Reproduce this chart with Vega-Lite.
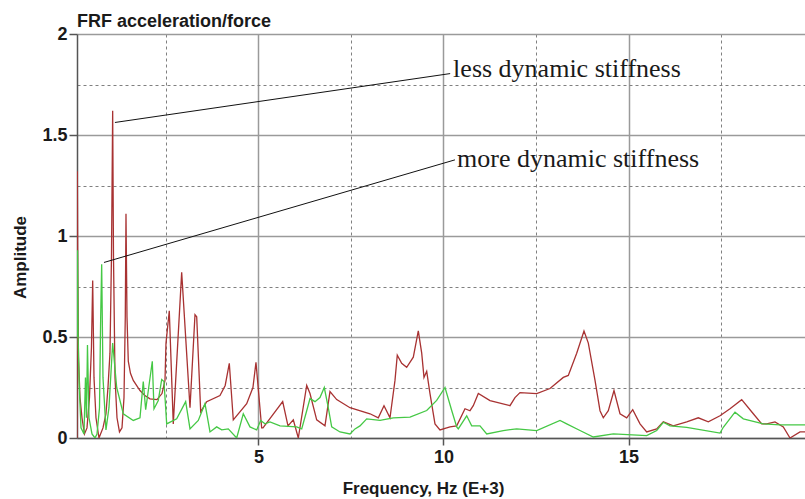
{
  "$schema": "https://vega.github.io/schema/vega-lite/v6.json",
  "width": 728,
  "height": 404,
  "autosize": {"type": "none"},
  "padding": {"left": 77, "top": 34, "right": 0, "bottom": 61},
  "background": "white",
  "config": {"view": {"stroke": null}, "font": "Liberation Sans"},
  "title": {"text": "FRF acceleration/force", "anchor": "start", "frame": "group", "fontSize": 18, "fontWeight": "bold", "color": "#1a1a1a", "offset": -6, "font": "Liberation Sans"},
  "datasets": {
    "curves": [
      {"f": 0.095, "a": 0.0, "s": "less"},
      {"f": 0.103, "a": 1.32, "s": "less"},
      {"f": 0.116, "a": 0.81, "s": "less"},
      {"f": 0.135, "a": 0.4, "s": "less"},
      {"f": 0.176, "a": 0.2, "s": "less"},
      {"f": 0.23, "a": 0.1, "s": "less"},
      {"f": 0.297, "a": 0.02, "s": "less"},
      {"f": 0.365, "a": 0.05, "s": "less"},
      {"f": 0.432, "a": 0.2, "s": "less"},
      {"f": 0.486, "a": 0.45, "s": "less"},
      {"f": 0.519, "a": 0.78, "s": "less"},
      {"f": 0.554, "a": 0.3, "s": "less"},
      {"f": 0.608, "a": 0.1, "s": "less"},
      {"f": 0.689, "a": 0.0, "s": "less"},
      {"f": 0.797, "a": 0.05, "s": "less"},
      {"f": 0.878, "a": 0.12, "s": "less"},
      {"f": 0.932, "a": 0.25, "s": "less"},
      {"f": 0.986, "a": 0.42, "s": "less"},
      {"f": 1.027, "a": 0.9, "s": "less"},
      {"f": 1.059, "a": 1.62, "s": "less"},
      {"f": 1.081, "a": 0.9, "s": "less"},
      {"f": 1.122, "a": 0.3, "s": "less"},
      {"f": 1.176, "a": 0.1, "s": "less"},
      {"f": 1.243, "a": 0.03, "s": "less"},
      {"f": 1.311, "a": 0.05, "s": "less"},
      {"f": 1.365, "a": 0.2, "s": "less"},
      {"f": 1.4, "a": 0.6, "s": "less"},
      {"f": 1.419, "a": 1.11, "s": "less"},
      {"f": 1.446, "a": 0.6, "s": "less"},
      {"f": 1.481, "a": 0.38, "s": "less"},
      {"f": 1.54, "a": 0.32, "s": "less"},
      {"f": 1.616, "a": 0.285, "s": "less"},
      {"f": 1.797, "a": 0.235, "s": "less"},
      {"f": 1.93, "a": 0.21, "s": "less"},
      {"f": 2.068, "a": 0.194, "s": "less"},
      {"f": 2.257, "a": 0.19, "s": "less"},
      {"f": 2.392, "a": 0.22, "s": "less"},
      {"f": 2.473, "a": 0.285, "s": "less"},
      {"f": 2.5, "a": 0.47, "s": "less"},
      {"f": 2.589, "a": 0.63, "s": "less"},
      {"f": 2.697, "a": 0.07, "s": "less"},
      {"f": 2.924, "a": 0.82, "s": "less"},
      {"f": 3.149, "a": 0.15, "s": "less"},
      {"f": 3.284, "a": 0.61, "s": "less"},
      {"f": 3.33, "a": 0.6, "s": "less"},
      {"f": 3.438, "a": 0.13, "s": "less"},
      {"f": 3.6, "a": 0.18, "s": "less"},
      {"f": 3.959, "a": 0.21, "s": "less"},
      {"f": 4.1, "a": 0.26, "s": "less"},
      {"f": 4.211, "a": 0.37, "s": "less"},
      {"f": 4.319, "a": 0.09, "s": "less"},
      {"f": 4.681, "a": 0.17, "s": "less"},
      {"f": 4.85, "a": 0.25, "s": "less"},
      {"f": 4.932, "a": 0.375, "s": "less"},
      {"f": 5.086, "a": 0.05, "s": "less"},
      {"f": 5.122, "a": 0.05, "s": "less"},
      {"f": 5.654, "a": 0.18, "s": "less"},
      {"f": 5.797, "a": 0.06, "s": "less"},
      {"f": 5.941, "a": 0.09, "s": "less"},
      {"f": 6.076, "a": 0.0, "s": "less"},
      {"f": 6.303, "a": 0.26, "s": "less"},
      {"f": 6.392, "a": 0.22, "s": "less"},
      {"f": 6.573, "a": 0.09, "s": "less"},
      {"f": 6.797, "a": 0.06, "s": "less"},
      {"f": 6.932, "a": 0.23, "s": "less"},
      {"f": 7.114, "a": 0.19, "s": "less"},
      {"f": 7.473, "a": 0.15, "s": "less"},
      {"f": 8.014, "a": 0.12, "s": "less"},
      {"f": 8.238, "a": 0.1, "s": "less"},
      {"f": 8.392, "a": 0.16, "s": "less"},
      {"f": 8.554, "a": 0.1, "s": "less"},
      {"f": 8.689, "a": 0.285, "s": "less"},
      {"f": 8.751, "a": 0.41, "s": "less"},
      {"f": 8.87, "a": 0.37, "s": "less"},
      {"f": 9.005, "a": 0.35, "s": "less"},
      {"f": 9.184, "a": 0.4, "s": "less"},
      {"f": 9.319, "a": 0.53, "s": "less"},
      {"f": 9.411, "a": 0.42, "s": "less"},
      {"f": 9.473, "a": 0.3, "s": "less"},
      {"f": 9.546, "a": 0.33, "s": "less"},
      {"f": 9.635, "a": 0.22, "s": "less"},
      {"f": 9.77, "a": 0.07, "s": "less"},
      {"f": 9.905, "a": 0.04, "s": "less"},
      {"f": 10.176, "a": 0.055, "s": "less"},
      {"f": 10.357, "a": 0.06, "s": "less"},
      {"f": 10.581, "a": 0.145, "s": "less"},
      {"f": 10.716, "a": 0.135, "s": "less"},
      {"f": 10.805, "a": 0.16, "s": "less"},
      {"f": 10.941, "a": 0.22, "s": "less"},
      {"f": 11.257, "a": 0.185, "s": "less"},
      {"f": 11.797, "a": 0.16, "s": "less"},
      {"f": 11.932, "a": 0.2, "s": "less"},
      {"f": 12.068, "a": 0.225, "s": "less"},
      {"f": 12.519, "a": 0.22, "s": "less"},
      {"f": 12.878, "a": 0.245, "s": "less"},
      {"f": 13.238, "a": 0.3, "s": "less"},
      {"f": 13.373, "a": 0.31, "s": "less"},
      {"f": 13.6, "a": 0.42, "s": "less"},
      {"f": 13.797, "a": 0.53, "s": "less"},
      {"f": 13.914, "a": 0.47, "s": "less"},
      {"f": 14.095, "a": 0.285, "s": "less"},
      {"f": 14.23, "a": 0.135, "s": "less"},
      {"f": 14.319, "a": 0.1, "s": "less"},
      {"f": 14.454, "a": 0.135, "s": "less"},
      {"f": 14.608, "a": 0.235, "s": "less"},
      {"f": 14.77, "a": 0.12, "s": "less"},
      {"f": 14.951, "a": 0.1, "s": "less"},
      {"f": 15.114, "a": 0.14, "s": "less"},
      {"f": 15.311, "a": 0.07, "s": "less"},
      {"f": 15.492, "a": 0.03, "s": "less"},
      {"f": 15.762, "a": 0.045, "s": "less"},
      {"f": 15.941, "a": 0.08, "s": "less"},
      {"f": 16.211, "a": 0.06, "s": "less"},
      {"f": 16.573, "a": 0.08, "s": "less"},
      {"f": 16.886, "a": 0.1, "s": "less"},
      {"f": 17.157, "a": 0.08, "s": "less"},
      {"f": 17.473, "a": 0.11, "s": "less"},
      {"f": 17.743, "a": 0.145, "s": "less"},
      {"f": 18.059, "a": 0.19, "s": "less"},
      {"f": 18.373, "a": 0.12, "s": "less"},
      {"f": 18.6, "a": 0.07, "s": "less"},
      {"f": 18.735, "a": 0.07, "s": "less"},
      {"f": 18.959, "a": 0.08, "s": "less"},
      {"f": 19.184, "a": 0.055, "s": "less"},
      {"f": 19.365, "a": 0.0, "s": "less"},
      {"f": 19.635, "a": 0.03, "s": "less"},
      {"f": 19.77, "a": 0.03, "s": "less"},
      {"f": 0.095, "a": 0.5, "s": "more"},
      {"f": 0.11, "a": 0.93, "s": "more"},
      {"f": 0.125, "a": 0.5, "s": "more"},
      {"f": 0.157, "a": 0.25, "s": "more"},
      {"f": 0.203, "a": 0.05, "s": "more"},
      {"f": 0.284, "a": 0.02, "s": "more"},
      {"f": 0.324, "a": 0.3, "s": "more"},
      {"f": 0.351, "a": 0.1, "s": "more"},
      {"f": 0.378, "a": 0.46, "s": "more"},
      {"f": 0.419, "a": 0.1, "s": "more"},
      {"f": 0.5, "a": 0.02, "s": "more"},
      {"f": 0.581, "a": 0.0, "s": "more"},
      {"f": 0.635, "a": 0.02, "s": "more"},
      {"f": 0.703, "a": 0.15, "s": "more"},
      {"f": 0.735, "a": 0.6, "s": "more"},
      {"f": 0.762, "a": 0.86, "s": "more"},
      {"f": 0.797, "a": 0.3, "s": "more"},
      {"f": 0.878, "a": 0.04, "s": "more"},
      {"f": 0.959, "a": 0.15, "s": "more"},
      {"f": 1.059, "a": 0.47, "s": "more"},
      {"f": 1.168, "a": 0.25, "s": "more"},
      {"f": 1.346, "a": 0.12, "s": "more"},
      {"f": 1.616, "a": 0.087, "s": "more"},
      {"f": 1.797, "a": 0.1, "s": "more"},
      {"f": 1.886, "a": 0.28, "s": "more"},
      {"f": 1.951, "a": 0.14, "s": "more"},
      {"f": 2.13, "a": 0.38, "s": "more"},
      {"f": 2.176, "a": 0.145, "s": "more"},
      {"f": 2.292, "a": 0.186, "s": "more"},
      {"f": 2.384, "a": 0.29, "s": "more"},
      {"f": 2.446, "a": 0.28, "s": "more"},
      {"f": 2.519, "a": 0.07, "s": "more"},
      {"f": 2.789, "a": 0.095, "s": "more"},
      {"f": 3.032, "a": 0.18, "s": "more"},
      {"f": 3.149, "a": 0.045, "s": "more"},
      {"f": 3.373, "a": 0.087, "s": "more"},
      {"f": 3.554, "a": 0.17, "s": "more"},
      {"f": 3.689, "a": 0.03, "s": "more"},
      {"f": 3.87, "a": 0.055, "s": "more"},
      {"f": 4.005, "a": 0.04, "s": "more"},
      {"f": 4.184, "a": 0.045, "s": "more"},
      {"f": 4.411, "a": 0.0, "s": "more"},
      {"f": 4.589, "a": 0.12, "s": "more"},
      {"f": 4.77, "a": 0.055, "s": "more"},
      {"f": 4.951, "a": 0.04, "s": "more"},
      {"f": 5.059, "a": 0.087, "s": "more"},
      {"f": 5.176, "a": 0.07, "s": "more"},
      {"f": 5.311, "a": 0.08, "s": "more"},
      {"f": 5.581, "a": 0.06, "s": "more"},
      {"f": 6.032, "a": 0.055, "s": "more"},
      {"f": 6.168, "a": 0.045, "s": "more"},
      {"f": 6.303, "a": 0.135, "s": "more"},
      {"f": 6.392, "a": 0.195, "s": "more"},
      {"f": 6.527, "a": 0.18, "s": "more"},
      {"f": 6.662, "a": 0.2, "s": "more"},
      {"f": 6.778, "a": 0.25, "s": "more"},
      {"f": 6.886, "a": 0.15, "s": "more"},
      {"f": 6.978, "a": 0.055, "s": "more"},
      {"f": 7.203, "a": 0.03, "s": "more"},
      {"f": 7.473, "a": 0.02, "s": "more"},
      {"f": 7.608, "a": 0.045, "s": "more"},
      {"f": 7.743, "a": 0.06, "s": "more"},
      {"f": 7.924, "a": 0.095, "s": "more"},
      {"f": 8.284, "a": 0.087, "s": "more"},
      {"f": 8.643, "a": 0.1, "s": "more"},
      {"f": 9.095, "a": 0.103, "s": "more"},
      {"f": 9.546, "a": 0.136, "s": "more"},
      {"f": 9.816, "a": 0.186, "s": "more"},
      {"f": 10.041, "a": 0.25, "s": "more"},
      {"f": 10.222, "a": 0.136, "s": "more"},
      {"f": 10.357, "a": 0.055, "s": "more"},
      {"f": 10.4, "a": 0.045, "s": "more"},
      {"f": 10.627, "a": 0.11, "s": "more"},
      {"f": 10.762, "a": 0.06, "s": "more"},
      {"f": 10.986, "a": 0.06, "s": "more"},
      {"f": 11.168, "a": 0.02, "s": "more"},
      {"f": 11.616, "a": 0.037, "s": "more"},
      {"f": 11.978, "a": 0.045, "s": "more"},
      {"f": 12.519, "a": 0.037, "s": "more"},
      {"f": 13.149, "a": 0.087, "s": "more"},
      {"f": 13.33, "a": 0.07, "s": "more"},
      {"f": 13.689, "a": 0.037, "s": "more"},
      {"f": 14.049, "a": 0.005, "s": "more"},
      {"f": 14.589, "a": 0.02, "s": "more"},
      {"f": 15.492, "a": 0.012, "s": "more"},
      {"f": 15.762, "a": 0.037, "s": "more"},
      {"f": 15.941, "a": 0.078, "s": "more"},
      {"f": 16.122, "a": 0.06, "s": "more"},
      {"f": 16.573, "a": 0.053, "s": "more"},
      {"f": 17.473, "a": 0.024, "s": "more"},
      {"f": 17.562, "a": 0.053, "s": "more"},
      {"f": 17.878, "a": 0.128, "s": "more"},
      {"f": 18.103, "a": 0.095, "s": "more"},
      {"f": 18.643, "a": 0.07, "s": "more"},
      {"f": 19.095, "a": 0.065, "s": "more"},
      {"f": 19.77, "a": 0.065, "s": "more"}
    ],
    "leaders": [
      {"x1": 1.12, "y1": 1.562, "x2": 10.18, "y2": 1.804},
      {"x1": 0.824, "y1": 0.869, "x2": 10.31, "y2": 1.377}
    ],
    "notes": [
      {"x": 10.26, "y": 1.828, "label": "less dynamic stiffness"},
      {"x": 10.366, "y": 1.382, "label": "more dynamic stiffness"}
    ]
  },
  "layer": [
    {
      "data": {"name": "curves"},
      "mark": {"type": "line", "strokeWidth": 1.3, "clip": true},
      "encoding": {
        "x": {
          "field": "f", "type": "quantitative",
          "scale": {"domain": [0.095, 19.77], "nice": false, "zero": false},
          "axis": {
            "values": [2.5, 5, 7.5, 10, 12.5, 15, 17.5],
            "title": "Frequency, Hz (E+3)",
            "format": "~g",
            "labelExpr": "datum.value % 5 === 0 ? datum.label : ''",
            "labelFontSize": 18, "labelFontWeight": "bold", "labelColor": "#1a1a1a", "labelPadding": 3,
            "titleFontSize": 17, "titleFontWeight": "bold", "titleColor": "#1a1a1a",
            "titleX": 346, "titleY": 50, "titleBaseline": "middle",
            "domainColor": "#555555", "domainWidth": 1.5,
            "grid": true,
            "gridColor": {"condition": {"test": "datum.value % 5 === 0", "value": "#9a9a9a"}, "value": "#808080"},
            "gridDash": {"condition": {"test": "datum.value % 5 === 0", "value": [1, 0]}, "value": [3, 3]},
            "gridWidth": {"condition": {"test": "datum.value % 5 === 0", "value": 1.5}, "value": 1},
            "tickColor": "#555555",
            "tickSize": {"condition": {"test": "datum.value % 5 === 0", "value": 7}, "value": 0},
            "tickWidth": 1.5
          }
        },
        "y": {
          "field": "a", "type": "quantitative",
          "scale": {"domain": [0, 2], "nice": false},
          "axis": {
            "values": [0, 0.25, 0.5, 0.75, 1, 1.25, 1.5, 1.75, 2],
            "title": "Amplitude",
            "format": "~g",
            "labelExpr": "datum.value % 0.5 === 0 ? datum.label : ''",
            "labelFontSize": 18, "labelFontWeight": "bold", "labelColor": "#1a1a1a", "labelPadding": 2,
            "titleFontSize": 17, "titleFontWeight": "bold", "titleColor": "#1a1a1a",
            "titleX": -57, "titleY": 223, "titleBaseline": "middle",
            "domainColor": "#555555", "domainWidth": 1.5,
            "grid": true,
            "gridColor": {"condition": {"test": "datum.value % 0.5 === 0", "value": "#9a9a9a"}, "value": "#808080"},
            "gridDash": {"condition": {"test": "datum.value % 0.5 === 0", "value": [1, 0]}, "value": [3, 3]},
            "gridWidth": {"condition": {"test": "datum.value % 0.5 === 0", "value": 1.5}, "value": 1},
            "tickColor": "#555555",
            "tickSize": {"condition": {"test": "datum.value % 0.5 === 0", "value": 8}, "value": 0},
            "tickWidth": 1.5
          }
        },
        "color": {
          "field": "s", "type": "nominal",
          "scale": {"domain": ["less", "more"], "range": ["#a83232", "#45c845"]},
          "legend": null
        }
      }
    },
    {
      "data": {"name": "leaders"},
      "mark": {"type": "rule", "color": "#111111", "strokeWidth": 1},
      "encoding": {
        "x": {"field": "x1", "type": "quantitative"},
        "y": {"field": "y1", "type": "quantitative"},
        "x2": {"field": "x2"},
        "y2": {"field": "y2"}
      }
    },
    {
      "data": {"name": "notes"},
      "mark": {"type": "text", "font": "Liberation Serif", "fontSize": 26, "align": "left", "baseline": "middle", "color": "#1a1a1a"},
      "encoding": {
        "x": {"field": "x", "type": "quantitative"},
        "y": {"field": "y", "type": "quantitative"},
        "text": {"field": "label"}
      }
    }
  ]
}
